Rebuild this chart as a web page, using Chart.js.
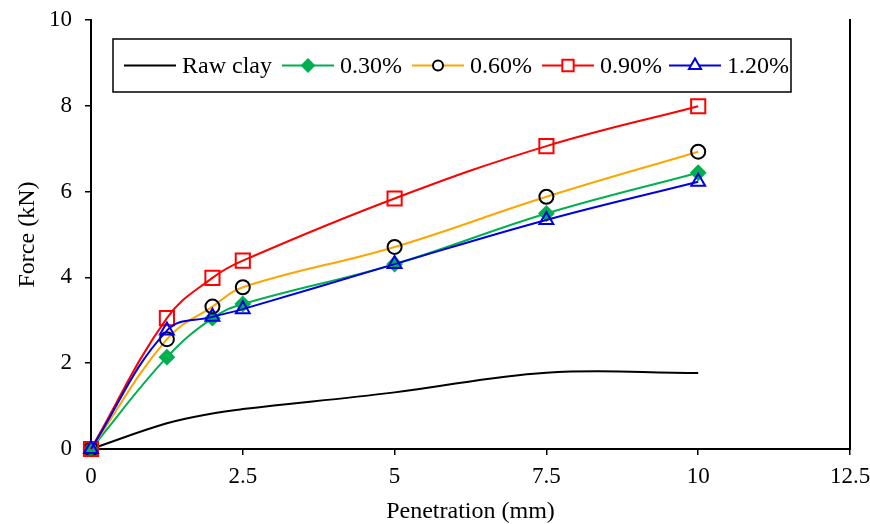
<!DOCTYPE html>
<html>
<head>
<meta charset="utf-8">
<script src="https://cdn.jsdelivr.net/npm/chart.js@4/dist/chart.umd.min.js"></script>
<style>
  html, body { margin: 0; padding: 0; background: #fff; }
  #wrap { width: 870px; height: 524px; position: relative; }
</style>
</head>
<body>
<div id="wrap"><canvas id="c" width="870" height="524"></canvas></div>
<script>
const penetration = [0, 1.25, 2, 2.5, 5, 7.5, 10];
const rawClay   = [0, 0.60, 0.83, 0.93, 1.32, 1.78, 1.77];
const fiber030  = [0, 2.14, 3.05, 3.38, 4.31, 5.49, 6.44];
const fiber060  = [0, 2.56, 3.32, 3.77, 4.71, 5.88, 6.93];
const fiber090  = [0, 3.05, 3.99, 4.39, 5.84, 7.06, 7.99];
const fiber120  = [0, 2.76, 3.08, 3.26, 4.31, 5.34, 6.23];
const seriesNames = ['Raw clay', '0.30%', '0.60%', '0.90%', '1.20%'];
const xTickValues = [0, 2.5, 5, 7.5, 10, 12.5];
const yTickValues = [0, 2, 4, 6, 8, 10];
const xTitle = 'Penetration (mm)';
const yTitle = 'Force (kN)';

const FONT = '"Liberation Serif", "Times New Roman", serif';
const pts = arr => arr.map((v, i) => ({ x: penetration[i], y: v }));

const styles = [
  { color: '#000000', pointStyle: 'circle', radius: 0, pointBorder: '#000000', legendR: 0 },
  { color: '#00B050', pointStyle: 'rectRot', radius: 7, pointBorder: '#00B050', fill: '#00B050', legendR: 6 },
  { color: '#FFA500', pointStyle: 'circle', radius: 7, pointBorder: '#000000', legendR: 5 },
  { color: '#FF0000', pointStyle: 'rect', radius: 10, pointBorder: '#FF0000', legendR: 8 },
  { color: '#0000E0', pointStyle: 'triangle', radius: 8, pointBorder: '#0000E0', legendR: 7 }
];
const seriesData = [rawClay, fiber030, fiber060, fiber090, fiber120];

const datasets = seriesData.map((arr, i) => ({
  label: seriesNames[i],
  data: pts(arr),
  borderColor: styles[i].color,
  borderWidth: 2,
  backgroundColor: styles[i].color,
  pointStyle: styles[i].pointStyle,
  pointRadius: styles[i].radius,
  pointHoverRadius: styles[i].radius,
  pointBorderColor: styles[i].pointBorder,
  pointBackgroundColor: styles[i].fill || 'rgba(0,0,0,0)',
  pointBorderWidth: 2,
  tension: 0.4,
  showLine: true,
  fill: false,
  clip: false,
  order: 5 - i
}));

const legendPlugin = {
  id: 'boxLegend',
  afterDraw(chart) {
    const ctx = chart.ctx;
    ctx.save();
    const bx = 113, by = 39, bw = 678, bh = 53;
    ctx.fillStyle = '#fff';
    ctx.fillRect(bx, by, bw, bh);
    ctx.strokeStyle = '#000';
    ctx.lineWidth = 1.5;
    ctx.strokeRect(bx, by, bw, bh);
    const cy = by + bh / 2;
    const lineStarts = [124, 282, 412, 542, 669];
    const segLen = 52;
    ctx.font = '24px ' + FONT;
    ctx.textBaseline = 'middle';
    ctx.textAlign = 'left';
    seriesNames.forEach((name, i) => {
      const s = styles[i];
      const x0 = lineStarts[i];
      ctx.strokeStyle = s.color;
      ctx.lineWidth = 2;
      ctx.beginPath();
      ctx.moveTo(x0, cy);
      ctx.lineTo(x0 + segLen, cy);
      ctx.stroke();
      if (s.legendR > 0) {
        ctx.lineWidth = 2;
        ctx.strokeStyle = s.pointBorder;
        ctx.fillStyle = s.fill || '#fff';
        Chart.helpers.drawPoint(ctx, { pointStyle: s.pointStyle, rotation: 0, borderWidth: 2, radius: s.legendR }, x0 + segLen / 2, cy);
      }
      ctx.fillStyle = '#000';
      ctx.fillText(name, x0 + segLen + 6, cy + 1);
    });
    ctx.restore();
  }
};

new Chart(document.getElementById('c'), {
  type: 'line',
  data: { datasets },
  options: {
    responsive: false,
    animation: false,
    devicePixelRatio: 1,
    layout: { padding: { top: 20, right: 20, bottom: 0, left: 0 } },
    plugins: { legend: { display: false }, tooltip: { enabled: false } },
    scales: {
      x: {
        type: 'linear', min: 0, max: 12.5,
        afterBuildTicks: s => { s.ticks = xTickValues.map(v => ({ value: v })); },
        afterFit: s => { s.height = 75; s.paddingLeft = 0; s.paddingRight = 0; },
        grid: { display: true, drawOnChartArea: false, drawTicks: true, tickLength: 6, color: '#000', lineWidth: 1.5 },
        border: { display: true, color: '#000', width: 2 },
        ticks: { font: { family: FONT, size: 23 }, color: '#000', padding: 8, maxRotation: 0, autoSkip: false, callback: v => String(v) },
        title: { display: true, text: xTitle, color: '#000', font: { family: FONT, size: 24, lineHeight: 1 }, padding: { top: 0, bottom: 0 } }
      },
      y: {
        type: 'linear', min: 0, max: 10,
        afterBuildTicks: s => { s.ticks = yTickValues.map(v => ({ value: v })); },
        afterFit: s => { s.width = 91; s.paddingTop = 0; s.paddingBottom = 0; },
        grid: { display: true, drawOnChartArea: false, drawTicks: true, tickLength: 6, color: '#000', lineWidth: 1.5 },
        border: { display: true, color: '#000', width: 2 },
        ticks: { font: { family: FONT, size: 23 }, color: '#000', padding: 13, autoSkip: false, callback: v => String(v) },
        title: { display: true, text: yTitle, color: '#000', font: { family: FONT, size: 24, lineHeight: 1 }, padding: { top: 16, bottom: 0 } }
      },
      yRight: {
        type: 'linear', position: 'right', min: 0, max: 10,
        afterFit: s => { s.width = 0; s.paddingTop = 0; s.paddingBottom = 0; },
        grid: { display: false, drawOnChartArea: false, drawTicks: false },
        border: { display: true, color: '#000', width: 2 },
        ticks: { display: false }
      }
    }
  },
  plugins: [legendPlugin]
});
</script>
</body>
</html>
